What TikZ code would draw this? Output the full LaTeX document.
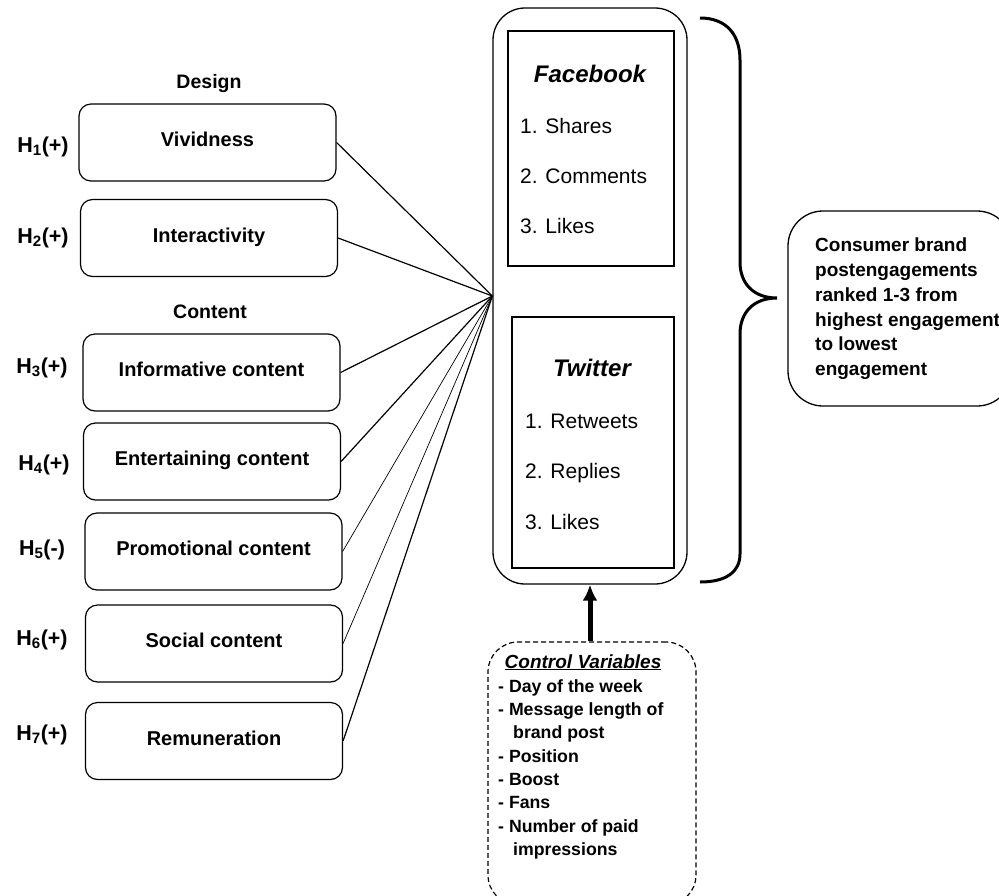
\documentclass[tikz,border=0pt]{standalone}
\usepackage{fontspec}
\setmainfont{Liberation Sans}
\usetikzlibrary{arrows.meta}
\begin{document}
\begin{tikzpicture}[x=1pt,y=-1pt,
  hbox/.style={draw, line width=1.2pt, rounded corners=12pt, inner sep=0pt,
    minimum width=257pt, minimum height=77pt, text height=8pt, text depth=0pt,
    font=\bfseries\fontsize{20}{22}\selectfont},
  hlab/.style={anchor=base, inner sep=0pt, font=\bfseries\fontsize{21.5}{24}\selectfont},
  grp/.style={anchor=base, inner sep=0pt, font=\bfseries\fontsize{19.5}{22}\selectfont},
  plat/.style={anchor=base, inner sep=0pt, font=\bfseries\itshape\fontsize{24}{26}\selectfont},
  item/.style={anchor=base west, inner sep=0pt, font=\fontsize{21}{24}\selectfont},
  cline/.style={anchor=base west, inner sep=0pt, font=\bfseries\fontsize{17.7}{20}\selectfont},
  link/.style={line width=1.2pt},
  thinlink/.style={line width=0.7pt}]
\useasboundingbox (0,0) rectangle (999,895);

% group labels
\node[grp] (design) at (209,88) {Design};
\node[grp] (content) at (210,318) {Content};

% left boxes
\node[hbox] (b1) at (207.5,142.5) {Vividness};
\node[hbox] (b2) at (209,238) {Interactivity};
\node[hbox] (b3) at (211.5,372.5) {Informative content};
\node[hbox] (b4) at (212,461.5) {Entertaining content};
\node[hbox] (b5) at (213.5,551.5) {Promotional content};
\node[hbox] (b6) at (214,643.5) {Social content};
\node[hbox] (b7) at (214,741) {Remuneration};

% hypothesis labels
\node[hlab] (h1) at (43,152) {H\textsubscript{1}(+)};
\node[hlab] (h2) at (43,243) {H\textsubscript{2}(+)};
\node[hlab] (h3) at (42,373) {H\textsubscript{3}(+)};
\node[hlab] (h4) at (44,470) {H\textsubscript{4}(+)};
\node[hlab] (h5) at (42,555) {H\textsubscript{5}(-)};
\node[hlab] (h6) at (42,645) {H\textsubscript{6}(+)};
\node[hlab] (h7) at (42,740) {H\textsubscript{7}(+)};

% big outcome box
\node[draw, line width=1.3pt, rounded corners=32pt, minimum width=194pt, minimum height=576pt, inner sep=0pt] (big) at (590,296) {};
\node[draw, line width=1.3pt, minimum width=166pt, minimum height=235pt, inner sep=0pt] (fb) at (591,148.5) {};
\node[draw, line width=1.3pt, minimum width=162pt, minimum height=251pt, inner sep=0pt] (tw) at (593,442.5) {};

\node[plat] (fbt) at (590,82) {Facebook};
\node[item] (fb1) at (520,133) {1. Shares};
\node[item] (fb2) at (520,183) {2. Comments};
\node[item] (fb3) at (520,233) {3. Likes};

\node[plat] (twt) at (592,376) {Twitter};
\node[item] (tw1) at (525,428) {1. Retweets};
\node[item] (tw2) at (525,478) {2. Replies};
\node[item] (tw3) at (525,529) {3. Likes};

% connectors to the outcome box
\coordinate (conv) at (big.west);
\draw[link] (b1.east) -- (conv);
\draw[link] (b2.east) -- (conv);
\draw[link] (b3.east) -- (conv);
\draw[link] (b4.east) -- (conv);
\draw[thinlink] (b5.east) -- (conv);
\draw[thinlink] (b6.east) -- (conv);
\draw[link] (b7.east) -- (conv);

% brace
\coordinate (brtop) at (700,18);
\coordinate (brtip) at (777,298);
\coordinate (brbot) at (700,582);
\draw[line width=3pt] (brtop) .. controls (726,18) and (740,34) .. (740,60)
  -- (740,262) .. controls (740,284) and (754,298) .. (brtip)
  .. controls (754,298) and (740,312) .. (740,334)
  -- (740,554) .. controls (740,572) and (726,582) .. (brbot);

% consumer box
\node[draw, line width=1.3pt, rounded corners=35pt, minimum width=224pt, minimum height=195pt, inner sep=0pt] (cons) at (900,308.5) {};
\node[anchor=north west, align=left, inner sep=0pt, font=\bfseries\fontsize{19}{24.7}\selectfont] (ctext) at (815,238)
  {Consumer brand\\postengagements\\ranked 1-3 from\\highest engagement\\to lowest\\engagement};

% control variables box
\node[draw, line width=1.2pt, dash pattern=on 5pt off 3pt, rounded corners=30pt, minimum width=208pt, minimum height=263pt, inner sep=0pt] (ctrl) at (592,773.5) {};
\node[anchor=base, inner sep=0pt, font=\bfseries\itshape\fontsize{19}{22}\selectfont] (ctitle) at (583,668) {\underline{Control Variables}};
\node[cline] (c1) at (498,692) {- Day of the week};
\node[cline] (c2) at (498,715) {- Message length of};
\node[cline] (c3) at (513,738) {brand post};
\node[cline] (c4) at (498,762) {- Position};
\node[cline] (c5) at (498,785) {- Boost};
\node[cline] (c6) at (498,808) {- Fans};
\node[cline] (c7) at (498,832) {- Number of paid};
\node[cline] (c8) at (513,855) {impressions};

% control arrow
\draw[line width=5pt, -{Latex[length=16pt,width=15pt]}] (big.south |- ctrl.north) -- (big.south);
\end{tikzpicture}
\end{document}
